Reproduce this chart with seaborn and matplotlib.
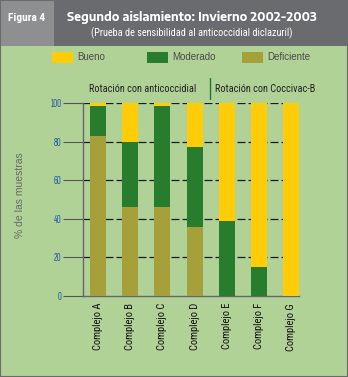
import matplotlib
matplotlib.use("Agg")
import matplotlib.pyplot as plt
from matplotlib.patches import Rectangle
from matplotlib.lines import Line2D
import pandas as pd
import seaborn as sns

# Data: percentage of samples per complex
complejos = ["Complejo A", "Complejo B", "Complejo C", "Complejo D",
             "Complejo E", "Complejo F", "Complejo G"]
deficiente = [83.0, 46.0, 46.0, 36.0, 0.0, 0.0, 0.0]
moderado = [15.5, 34.0, 52.5, 41.0, 39.0, 15.0, 0.0]
bueno = [1.5, 20.0, 1.5, 23.0, 61.0, 85.0, 100.0]
y_ticks = [0, 20, 40, 60, 80, 100]

C_BUENO = "#FFCC08"
C_MOD = "#287C2E"
C_DEF = "#A6A03A"
BG = "#B1D296"
DARK = "#6A6B6E"
LIGHT = "#8E8F91"

COND = ["Roboto Condensed", "DejaVu Sans"]
XCOND = ["Sofia Sans Extra Condensed", "Roboto Condensed", "DejaVu Sans"]
WIDE = ["Encode Sans Semi Expanded", "Liberation Sans", "DejaVu Sans"]
SANS = ["Liberation Sans", "DejaVu Sans"]

df = pd.DataFrame({"complejo": complejos, "deficiente": deficiente,
                   "moderado": moderado, "bueno": bueno})
df["c_mod"] = df["deficiente"] + df["moderado"]
df["c_all"] = df["c_mod"] + df["bueno"]

sns.set_theme(style="white")
plt.rcParams["font.family"] = SANS

W, H = 348, 377
fig = plt.figure(figsize=(W / 100, H / 100), dpi=100)
fig.patch.set_facecolor(BG)


def fx(px):
    return px / W


def fy(py):
    return 1 - py / H


# Header banner
fig.patches.append(Rectangle((0, fy(46)), 1, 46 / H, transform=fig.transFigure,
                             facecolor=DARK, edgecolor="none", zorder=0))
fig.patches.append(Rectangle((0, fy(46)), fx(54), 46 / H, transform=fig.transFigure,
                             facecolor=LIGHT, edgecolor="none", zorder=0))
# Frame
fig.patches.append(Rectangle((0, 0), 1, 1, transform=fig.transFigure,
                             facecolor="none", edgecolor=DARK, linewidth=1.5, zorder=5))

fig.text(fx(27), fy(18), "Figura 4", color="white", fontsize=8.2, fontweight="bold",
         family=COND, ha="center", va="center")
fig.text(fx(192), fy(17), "Segundo aislamiento: Invierno 2002-2003", color="white",
         fontsize=8.4, fontweight="bold", family=WIDE, ha="center", va="center")
fig.text(fx(192), fy(33), "(Prueba de sensibilidad al anticoccidial diclazuril)",
         color="white", fontsize=7.4, family=COND, ha="center", va="center")

# Legend
legend_items = [("Bueno", C_BUENO, 52), ("Moderado", C_MOD, 147), ("Deficiente", C_DEF, 242)]
for label, col, x0 in legend_items:
    fig.patches.append(Rectangle((fx(x0), fy(63)), fx(21), 11 / H, transform=fig.transFigure,
                                 facecolor=col, edgecolor="none"))
    fig.text(fx(x0 + 25), fy(57), label, color="#4A4A4A", fontsize=7,
             ha="left", va="center")

# Group captions
fig.text(fx(143), fy(89), "Rotación con anticoccidial", color="#222222", fontsize=7.4,
         family=COND, ha="center", va="center")
fig.text(fx(265), fy(89), "Rotación con Coccivac-B", color="#222222", fontsize=7.4,
         family=COND, ha="center", va="center")
fig.lines.append(Line2D([fx(210), fx(210)], [fy(78), fy(99)], transform=fig.transFigure,
                        color="#1E7A3A", linewidth=1.0))

ax = fig.add_axes([fx(83), fy(296), fx(299) - fx(83), (296 - 103) / H])
ax.set_facecolor(BG)

sns.barplot(data=df, x="complejo", y="c_all", order=complejos, color=C_BUENO,
            width=0.5, saturation=1, ax=ax, zorder=3)
sns.barplot(data=df, x="complejo", y="c_mod", order=complejos, color=C_MOD,
            width=0.5, saturation=1, ax=ax, zorder=3)
sns.barplot(data=df, x="complejo", y="deficiente", order=complejos, color=C_DEF,
            width=0.5, saturation=1, ax=ax, zorder=3)
for p in ax.patches:
    p.set_edgecolor("none")

ax.set_xlim(-0.47, 6.25)
ax.set_ylim(0, 100)
ax.set_yticks(y_ticks)
ax.set_yticklabels([str(t) for t in y_ticks], color="#1F5FA6", fontsize=8, family=XCOND)
ax.tick_params(axis="y", length=14.4, width=0.8, color="#555555", pad=1.2, left=True)
ax.tick_params(axis="x", length=0, pad=5)
ax.set_xticks(range(len(complejos)))
ax.set_xticklabels(complejos, rotation=90, fontsize=7.6, family=COND, color="#111111",
                   va="top")

for t in y_ticks[1:]:
    ax.axhline(t, color="#1A1A1A", linewidth=0.9, linestyle=(0, (6.4, 2.4)), zorder=2)

for side in ["top", "right"]:
    ax.spines[side].set_visible(False)
for side in ["left", "bottom"]:
    ax.spines[side].set_color("#666666")
    ax.spines[side].set_linewidth(1.0)

ax.set_xlabel("")
ax.set_ylabel("")
fig.text(fx(20), fy(195), "% de las muestras", rotation=90, color="#6A6A6A",
         fontsize=7.5, ha="center", va="center")

fig.savefig("out.png", dpi=100, facecolor=BG)
